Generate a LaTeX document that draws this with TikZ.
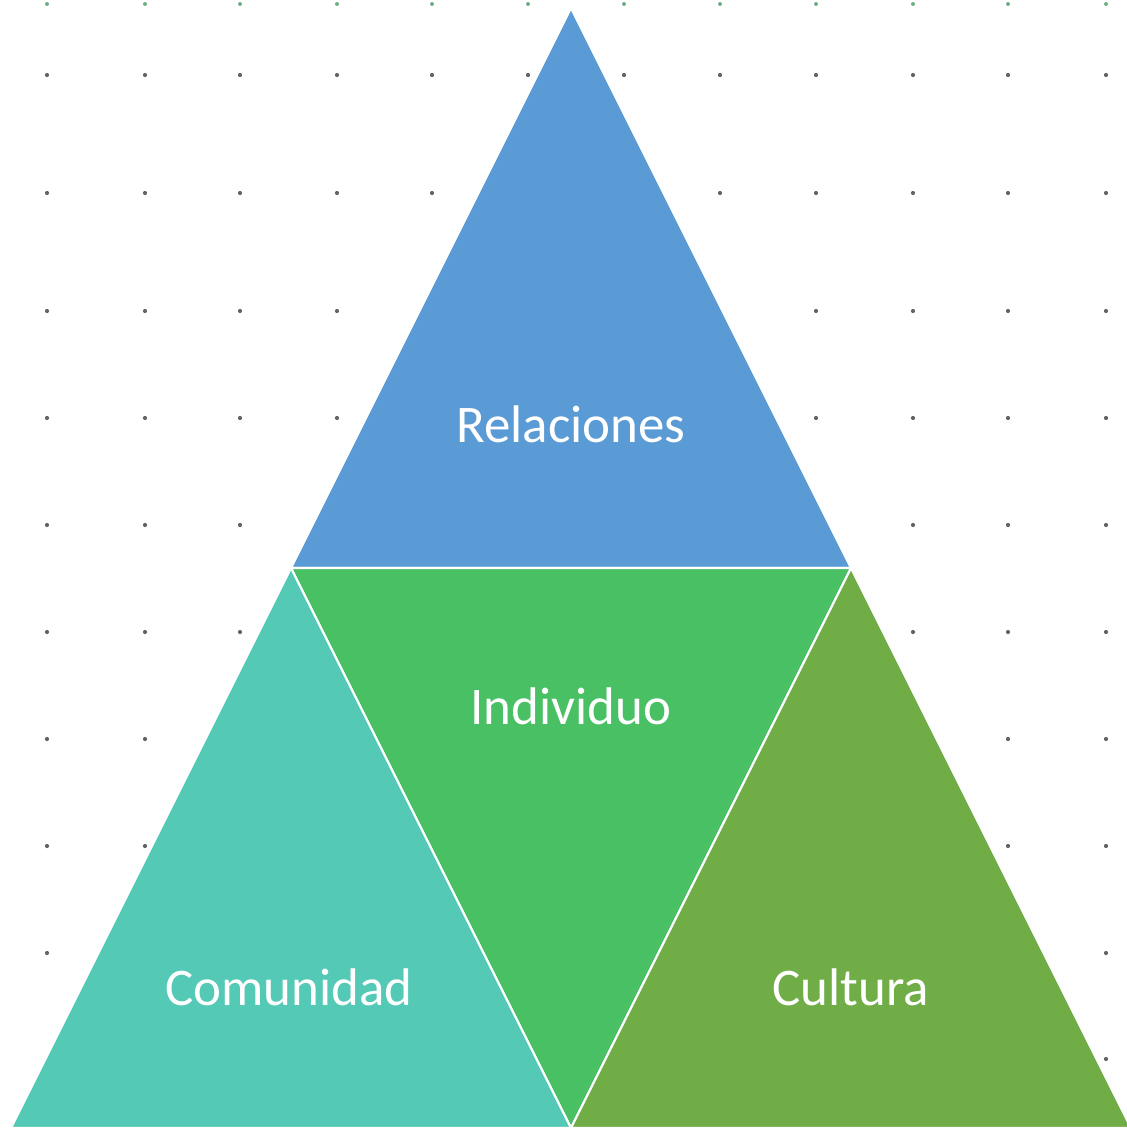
\documentclass[tikz,border=0pt]{standalone}
\usepackage{fontspec}
\setmainfont{Carlito}
\definecolor{relblue}{RGB}{91,155,213}
\definecolor{indgreen}{RGB}{74,192,100}
\definecolor{comteal}{RGB}{84,201,182}
\definecolor{culgreen}{RGB}{112,173,71}
\definecolor{dotgray}{RGB}{100,100,100}
\definecolor{dottop}{RGB}{110,175,135}
\tikzset{every picture/.style={line width=0.75pt}}
\tikzset{
  tri/.style={draw=white, line width=1.6pt},
  label/.style={anchor=base, inner sep=0.75pt, text=white, font=\fontsize{39.7}{44}\selectfont},
  griddot/.style={fill=dotgray, draw=none}
}
\begin{document}
\begin{tikzpicture}[x=0.75pt,y=0.75pt,yscale=-1,xscale=1]
\useasboundingbox (0,0) rectangle (1127,1128);
\clip (0,0) rectangle (1127,1128);

%Dot grid
\foreach \gx in {47,145,240,337,432,528,624,720,816,913,1008,1106}{
  \fill[dottop] (\gx,4) circle (2);
  \foreach \gy in {75,193,311,418,525,632,739,846,953,1059}{
    \fill[griddot] (\gx,\gy) circle (2.1);
  }
}

%Shape: Triangle (Relaciones)
\draw [tri, fill=relblue] (571,8) -- (851,568) -- (291,568) -- cycle ;
%Shape: Triangle (Individuo)
\draw [tri, fill=indgreen] (291,568) -- (851,568) -- (571,1128) -- cycle ;
%Shape: Triangle (Comunidad)
\draw [tri, fill=comteal] (291,568) -- (571,1128) -- (11,1128) -- cycle ;
%Shape: Triangle (Cultura)
\draw [tri, fill=culgreen] (851,568) -- (1131,1128) -- (571,1128) -- cycle ;

% Text Node
\draw (571,442) node [label] (relaciones) {Relaciones};
% Text Node
\draw (571,724) node [label] (individuo) {Individuo};
% Text Node
\draw (289,1005) node [label] (comunidad) {Comunidad};
% Text Node
\draw (851,1005) node [label] (cultura) {Cultura};

\end{tikzpicture}
\end{document}
